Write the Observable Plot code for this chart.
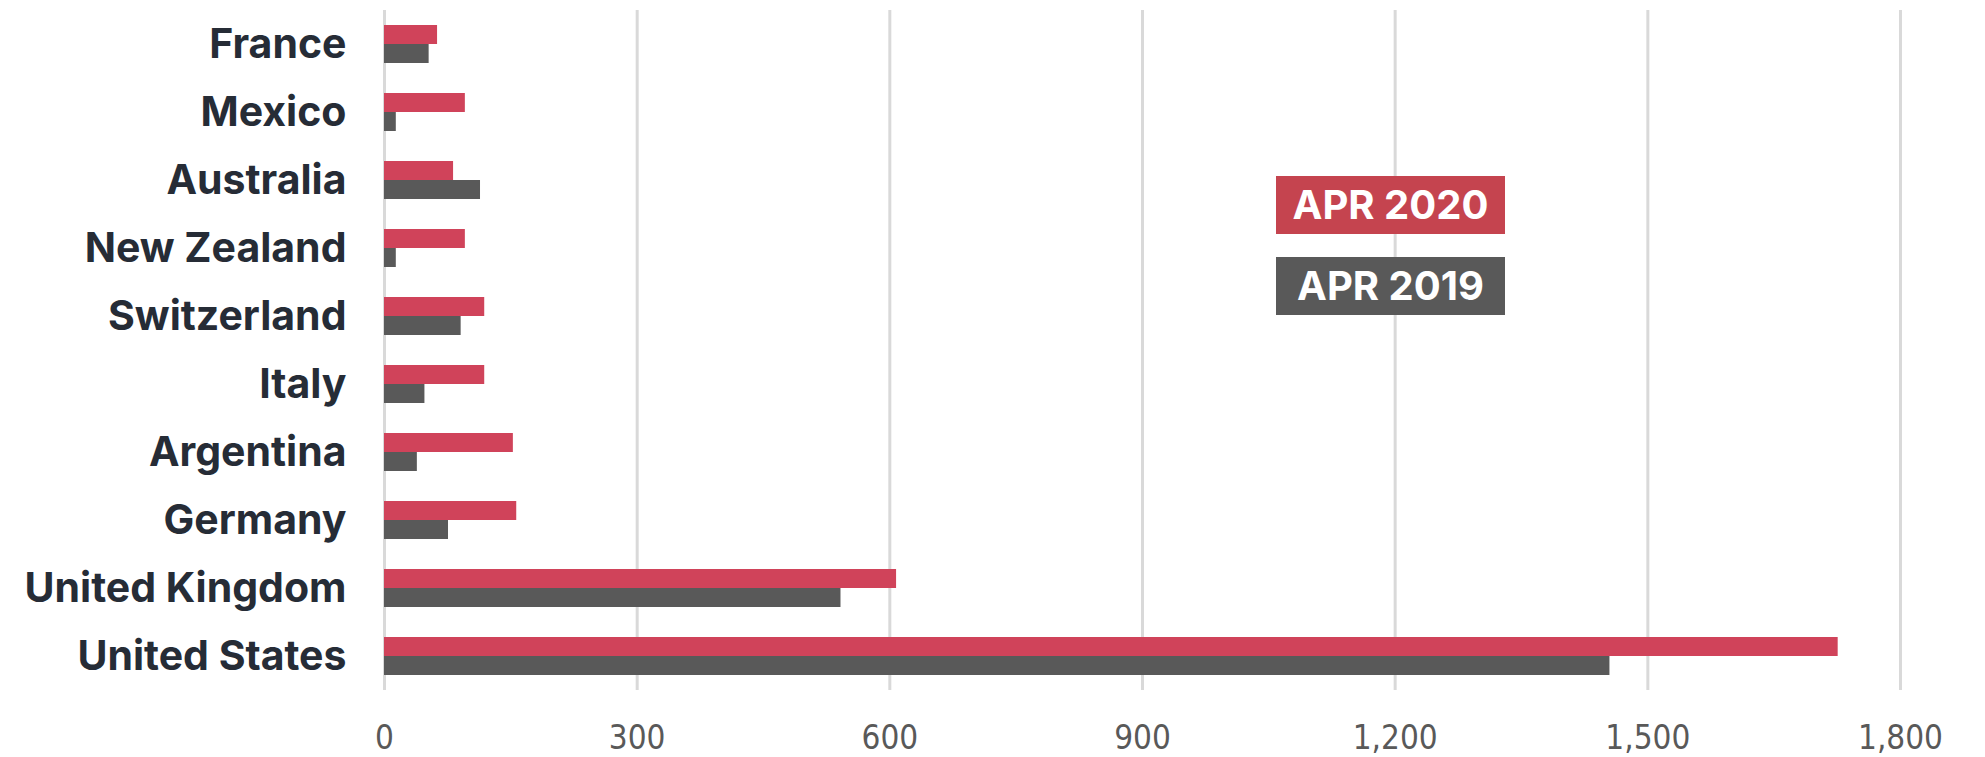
<!DOCTYPE html>
<html>
<head>
<meta charset="utf-8">
<script src="https://cdn.jsdelivr.net/npm/d3@7"></script>
<script src="https://cdn.jsdelivr.net/npm/@observablehq/plot@0.6"></script>
<style>
  html, body { margin: 0; padding: 0; background: #ffffff; }
  #wrap { position: relative; width: 1985px; height: 757px; overflow: hidden; }
  #legend { position: absolute; left: 1276px; top: 176px; display: flex; flex-direction: column; gap: 23px; }
  #legend div { width: 229px; height: 58px; display: flex; align-items: center; justify-content: center;
    color: #ffffff; font-family: Inter, Roboto, sans-serif; font-weight: 700; font-size: 40px; line-height: 1; }
  g[aria-label="x-axis tick label"] text { font-family: "Liberation Sans Narrow", "DejaVu Sans Condensed", sans-serif; }
  g[aria-label="fy-axis tick label"] text { font-family: Inter, Roboto, sans-serif; }
</style>
</head>
<body>
<div id="wrap"><div id="legend"></div></div>
<script>
// Categories, top to bottom
const countries = ["France", "Mexico", "Australia", "New Zealand", "Switzerland", "Italy", "Argentina", "Germany", "United Kingdom", "United States"];
// Series names
const series = ["APR 2020", "APR 2019"];
// Series values
const apr2020 = [63, 96, 82, 96, 119, 119, 153, 157, 608, 1726];
const apr2019 = [53, 14, 114, 14, 91, 48, 39, 76, 542, 1455];
// X tick values
const xTicks = [0, 300, 600, 900, 1200, 1500, 1800];

const data = countries.flatMap((c, i) => [
  {country: c, series: series[0], value: apr2020[i]},
  {country: c, series: series[1], value: apr2019[i]}
]);

const barColors = ["#D0435A", "#595959"];
const legendColors = ["#C5444F", "#595959"];

const chart = Plot.plot({
  width: 1985,
  height: 757,
  marginLeft: 384,
  marginRight: 85,
  marginTop: 7,
  marginBottom: 65,
  style: {background: "#ffffff"},
  x: {domain: [0, 1800], label: null},
  fy: {domain: countries, padding: 0, label: null},
  y: {domain: series, axis: null, paddingInner: 0, paddingOuter: 0.7125, label: null},
  color: {domain: series, range: barColors},
  marks: [
    Plot.gridX(xTicks, {stroke: "#d9d9d9", strokeOpacity: 1, strokeWidth: 3}),
    Plot.barX(data, {x: "value", y: "series", fy: "country", fill: "series"}),
    Plot.axisX({ticks: xTicks, tickSize: 0, tickPadding: 35, tickFormat: d3.format(","), fontSize: 33, fill: "#595959", label: null}),
    Plot.axisFy({anchor: "left", tickSize: 0, tickPadding: 38, fontSize: 41, fontWeight: 700, fill: "#262C36", dy: 0, label: null})
  ]
});

const wrap = document.getElementById("wrap");
wrap.insertBefore(chart, wrap.firstChild);

const legend = document.getElementById("legend");
series.forEach((s, i) => {
  const d = document.createElement("div");
  d.textContent = s;
  d.style.background = legendColors[i];
  legend.appendChild(d);
});
</script>
</body>
</html>
